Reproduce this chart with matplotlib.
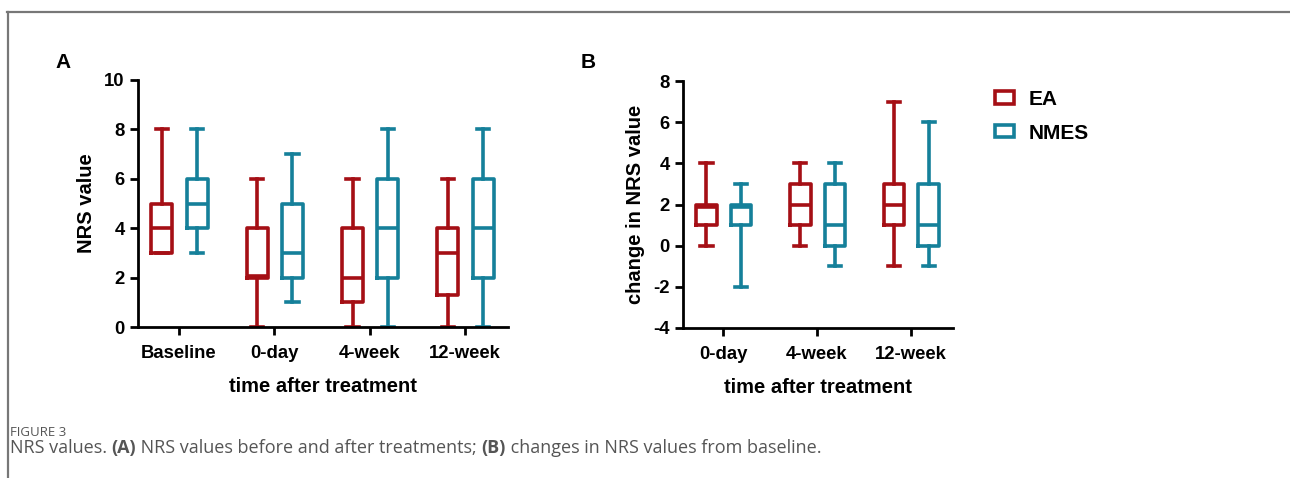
import matplotlib.pyplot as plt
from matplotlib.lines import Line2D
from matplotlib.patches import Patch

plt.rcParams['font.family'] = ['Liberation Sans', 'DejaVu Sans']
plt.rcParams['axes.unicode_minus'] = False

RED = '#A50F15'
TEAL = '#15809A'

# panel A: NRS value (whislo, q1, med, q3, whishi)
cats_a = ['Baseline', '0-day', '4-week', '12-week']
ea_a = [(3, 3, 4, 5, 8), (0, 2, 2.05, 4, 6), (0, 1, 2, 4, 6), (0, 1.3, 3, 4, 6)]
nmes_a = [(3, 4, 5, 6, 8), (1, 2, 3, 5, 7), (0, 2, 4, 6, 8), (0, 2, 4, 6, 8)]

# panel B: change in NRS value from baseline
cats_b = ['0-day', '4-week', '12-week']
ea_b = [(0, 1, 1.9, 2, 4), (0, 1, 2, 3, 4), (-1, 1, 2, 3, 7)]
nmes_b = [(-2, 1, 1.9, 2, 3), (-1, 0, 1, 3, 4), (-1, 0, 1, 3, 6)]


def stats(rows):
    return [dict(whislo=r[0], q1=r[1], med=r[2], q3=r[3], whishi=r[4], fliers=[])
            for r in rows]


def draw(ax, cats, ea, nmes, yticks, ylabel):
    pos = list(range(1, len(cats) + 1))
    for rows, off, col in [(ea, -0.18, RED), (nmes, 0.19, TEAL)]:
        lp = dict(color=col, linewidth=2.6)
        ax.bxp(stats(rows), positions=[p + off for p in pos], widths=0.22,
               boxprops=lp, medianprops=lp, whiskerprops=lp, capprops=lp,
               capwidths=0.13, showfliers=False, manage_ticks=False)
    ax.set_xlim(0.57, len(cats) + 0.45)
    ax.set_ylim(yticks[0], yticks[-1])
    ax.set_xticks(pos)
    ax.set_xticklabels(cats, fontsize=13.3, fontweight='bold')
    ax.set_yticks(yticks)
    ax.set_yticklabels([str(v) for v in yticks], fontsize=13.3, fontweight='bold')
    ax.spines['top'].set_visible(False)
    ax.spines['right'].set_visible(False)
    for s in ['left', 'bottom']:
        ax.spines[s].set_linewidth(2)
    ax.tick_params(width=2, length=6)
    ax.tick_params(axis='x', pad=7)
    ax.set_xlabel('time after treatment', fontsize=14.5, fontweight='bold', labelpad=11)
    ax.set_ylabel(ylabel, fontsize=14.5, fontweight='bold', labelpad=6)


fig = plt.figure(figsize=(12.9, 4.78), dpi=100)

ax1 = fig.add_axes([138 / 1290, 1 - 327 / 478, 370 / 1290, 247 / 478])
draw(ax1, cats_a, ea_a, nmes_a, [0, 2, 4, 6, 8, 10], 'NRS value')

ax2 = fig.add_axes([683 / 1290, 1 - 328 / 478, 270 / 1290, 247 / 478])
draw(ax2, cats_b, ea_b, nmes_b, [-4, -2, 0, 2, 4, 6, 8], 'change in NRS value')

handles = [Patch(facecolor='white', edgecolor=c, linewidth=2.6) for c in (RED, TEAL)]
fig.legend(handles, ['EA', 'NMES'], loc='upper left',
           bbox_to_anchor=(995 / 1290, 1 - 90 / 478), frameon=False, borderpad=0,
           borderaxespad=0, prop=dict(size=15, weight='bold'),
           handlelength=0.9, handleheight=0.55, handletextpad=0.7, labelspacing=0.7)

fig.text(55 / 1290, 1 - 62 / 478, 'A', fontsize=15, fontweight='bold', va='center')
fig.text(581 / 1290, 1 - 62 / 478, 'B', fontsize=15, fontweight='bold', va='center')

# page frame lines
fig.add_artist(Line2D([7 / 1290, 1], [1 - 11.5 / 478] * 2, color='#777777', lw=1.6))
fig.add_artist(Line2D([7.5 / 1290] * 2, [0, 1 - 11.5 / 478], color='#777777', lw=1.6))

# caption, with bold (A) and (B)
cap = dict(family=['Open Sans', 'DejaVu Sans'], color='#555555')
fig.text(10 / 1290, 1 - 432 / 478, 'FIGURE 3', fontsize=9.5, va='center', **cap)
parts = [('NRS values. ', 'normal'), ('(A)', 'bold'),
         (' NRS values before and after treatments; ', 'normal'), ('(B)', 'bold'),
         (' changes in NRS values from baseline.', 'normal')]
t = fig.text(10 / 1290, 1 - 457 / 478, parts[0][0], fontsize=13,
             fontweight=parts[0][1], va='bottom', **cap)
for s, w in parts[1:]:
    t = ax1.annotate(s, xy=(1, 0), xycoords=t, va='bottom', ha='left',
                     fontsize=13, fontweight=w, annotation_clip=False, **cap)

fig.savefig('out.png', dpi=100)
